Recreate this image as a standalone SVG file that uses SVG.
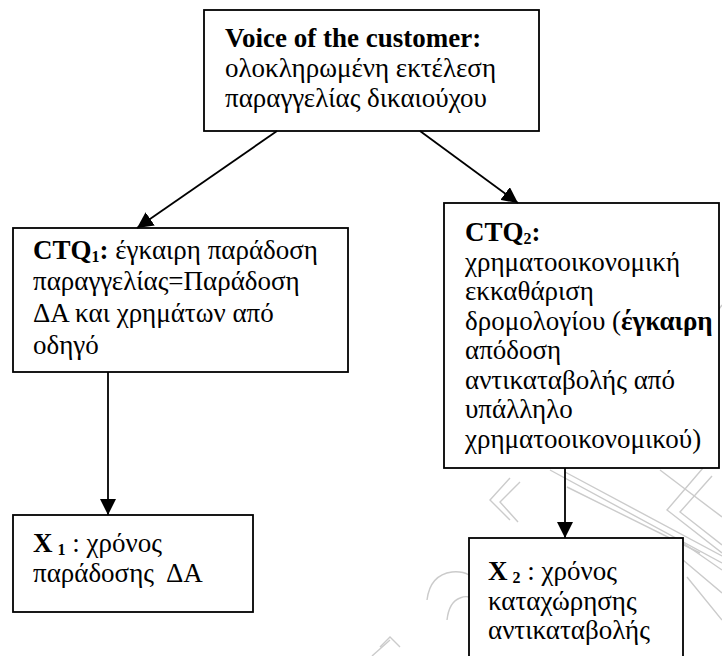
<svg xmlns="http://www.w3.org/2000/svg" width="722" height="656" viewBox="0 0 722 656">
  <style>
    .box { fill: #ffffff; stroke: #000000; stroke-width: 1.8; }
    .t { font-family: "Liberation Serif", "Times New Roman", "DejaVu Serif", serif; font-size: 27px; fill: #000000; }
    .b { font-weight: bold; }
    .sub { font-size: 16px; font-weight: bold; }
    .conn line { stroke: #000000; stroke-width: 1.8; }
    .wm { fill: none; stroke: #cbcbcb; stroke-width: 1.4; }
  </style>
  <defs>
    <marker id="arrow" viewBox="0 0 16 16" refX="16" refY="8" markerWidth="16" markerHeight="16" markerUnits="userSpaceOnUse" orient="auto">
      <path d="M0,0 L16,8 L0,16 z" fill="#000000"/>
    </marker>
  </defs>

  <rect width="722" height="656" fill="#ffffff"/>

  <!-- faint background watermark -->
  <g id="watermark" class="wm">
    <path d="M550,470 L722,563 M565,472 L722,556 M567,487 L700,553"/>
    <path d="M703,468 L667,510 L722,553 M712,476 L680,512 L722,545"/>
    <path d="M683,543 L722,570 M683,560 L722,593 M687,577 L722,620"/>
    <path d="M660,470 L722,517"/>
    <path d="M510,478 L490,500 L510,520 M520,482 L500,502 L518,522"/>
    <path d="M427,600 Q430,575 452,572 Q462,571 469,575"/>
    <path d="M447,620 Q449,602 460,598 Q465,596 469,597"/>
    <path d="M380,647 L390,637 L400,647 M372,656 L390,640"/>
    <path d="M690,330 L712,300 M700,335 L722,305"/>
  </g>

  <g id="voc">
    <rect class="box" x="204" y="10" width="335" height="121"/>
    <text class="t" x="225" y="47"><tspan class="b">Voice of the customer:</tspan></text>
    <text class="t" x="225" y="77">ολοκληρωμένη εκτέλεση</text>
    <text class="t" x="225" y="107">παραγγελίας δικαιούχου</text>
  </g>

  <g id="ctq1">
    <rect class="box" x="13" y="228" width="335" height="144"/>
    <text class="t" x="33" y="259"><tspan class="b">CTQ</tspan><tspan class="sub" dy="3">1</tspan><tspan class="b" dy="-3">:</tspan> έγκαιρη παράδοση</text>
    <text class="t" x="33" y="290">παραγγελίας=Παράδοση</text>
    <text class="t" x="33" y="322">ΔΑ και χρημάτων από</text>
    <text class="t" x="33" y="354">οδηγό</text>
  </g>

  <g id="ctq2">
    <rect class="box" x="444" y="203" width="275" height="265"/>
    <text class="t" x="465" y="241"><tspan class="b">CTQ</tspan><tspan class="sub" dy="3">2</tspan><tspan class="b" dy="-3">:</tspan></text>
    <text class="t" x="465" y="271">χρηματοοικονομική</text>
    <text class="t" x="465" y="300">εκκαθάριση</text>
    <text class="t" x="465" y="330">δρομολογίου (<tspan class="b">έγκαιρη</tspan></text>
    <text class="t" x="465" y="359">απόδοση</text>
    <text class="t" x="465" y="389">αντικαταβολής από</text>
    <text class="t" x="465" y="418">υπάλληλο</text>
    <text class="t" x="465" y="448">χρηματοοικονομικού)</text>
  </g>

  <g id="x1">
    <rect class="box" x="13" y="515" width="240" height="97"/>
    <text class="t" x="33" y="552"><tspan class="b">X</tspan><tspan class="sub" dx="5" dy="3">1</tspan><tspan dy="-3"> : χρόνος</tspan></text>
    <text class="t" x="33" y="582">παράδοσης&#160; ΔΑ</text>
  </g>

  <g id="x2">
    <rect class="box" x="469" y="538" width="214" height="130"/>
    <text class="t" x="488" y="580"><tspan class="b">X</tspan><tspan class="sub" dx="5" dy="3">2</tspan><tspan dy="-3"> : χρόνος</tspan></text>
    <text class="t" x="488" y="610">καταχώρησης</text>
    <text class="t" x="488" y="639">αντικαταβολής</text>
  </g>

  <g id="connectors" class="conn">
    <line x1="277" y1="131" x2="137" y2="228" marker-end="url(#arrow)"/>
    <line x1="420" y1="131" x2="518" y2="203" marker-end="url(#arrow)"/>
    <line x1="108" y1="372" x2="108" y2="515" marker-end="url(#arrow)"/>
    <line x1="565" y1="468" x2="565" y2="538" marker-end="url(#arrow)"/>
  </g>
</svg>
